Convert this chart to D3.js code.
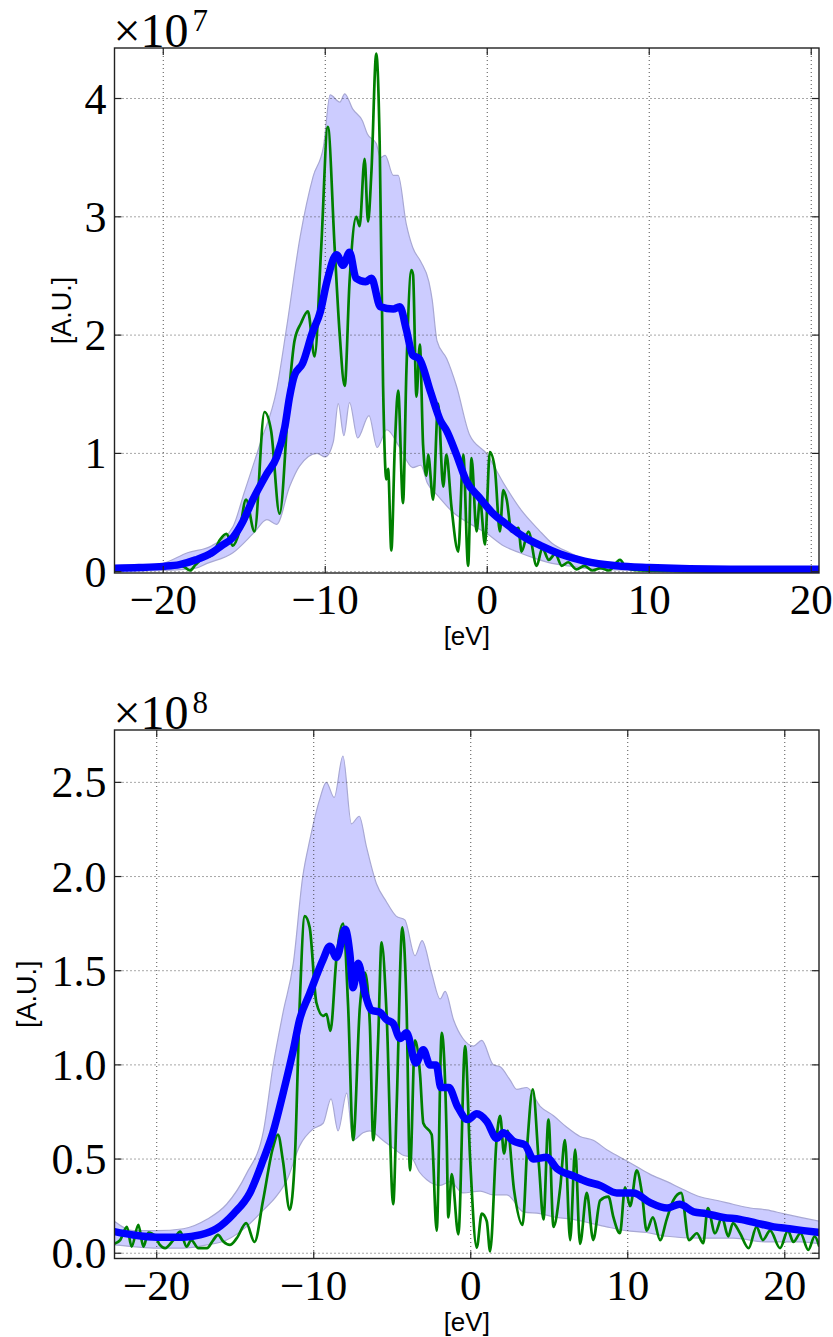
<!DOCTYPE html>
<html><head><meta charset="utf-8">
<script src="https://cdn.jsdelivr.net/npm/d3@7"></script>
<style>body{margin:0;background:#fff}svg{display:block}</style>
</head><body>
<svg id="c" width="833" height="1337"></svg>
<script>
// ---------------- DATA ----------------
const xLabel = "[eV]", yLabel = "[A.U.]";
const topXTicks = [-20, -10, 0, 10, 20];
const topYTicks = [0, 1, 2, 3, 4];
const topExponent = "7";
const botXTicks = [-20, -10, 0, 10, 20];
const botYTicks = [0, 0.5, 1.0, 1.5, 2.0, 2.5];
const botExponent = "8";

// top panel (x in eV, y in units of 1e7)
const topMean = [[-23,0.03],[-21.5,0.035],[-20,0.045],[-19,0.06],[-18,0.10],[-17,0.16],[-16.4,0.22],[-15.7,0.29],[-15.1,0.42],[-14.5,0.6],
 [-13.6,0.83],[-13.0,0.97],[-12.5,1.22],[-12.2,1.48],[-11.9,1.66],[-11.4,1.76],[-10.8,2.02],[-10.3,2.2],[-9.9,2.45],[-9.3,2.68],
 [-8.9,2.59],[-8.5,2.70],[-8.1,2.48],[-7.5,2.45],[-7.15,2.48],[-6.6,2.24],[-5.8,2.22],[-5.4,2.24],[-5.0,2.05],[-4.6,1.83],
 [-4.2,1.80],[-3.5,1.52],[-2.9,1.28],[-2.5,1.19],[-1.9,0.99],[-1.3,0.77],[-0.5,0.63],[0.3,0.50],[1.2,0.40],[2.2,0.30],
 [3.3,0.22],[4.5,0.15],[6,0.09],[8,0.05],[10,0.035],[15,0.02],[20.5,0.02]];
const topUpper = [[-23,0.03],[-21,0.05],[-20,0.07],[-18.5,0.16],[-17,0.22],[-15.7,0.38],[-15,0.67],[-14,1.09],[-13,1.54],[-12.4,2.05],
 [-11.55,2.83],[-10.75,3.34],[-10.1,3.6],[-9.7,4.03],[-9.1,3.97],[-8.8,4.04],[-8.3,3.91],[-7.7,3.81],[-7.4,3.70],[-6.85,3.62],
 [-6.6,3.5],[-6.3,3.52],[-5.8,3.35],[-5.5,3.35],[-5.0,2.94],[-4.6,2.74],[-4.1,2.62],[-3.6,2.45],[-3.4,2.3],[-3.1,1.95],
 [-2.5,1.80],[-1.9,1.57],[-1.1,1.16],[0,0.99],[1.0,0.75],[2.1,0.52],[3.2,0.35],[4.0,0.24],[5.1,0.16],[6.1,0.10],
 [8.2,0.045],[10.2,0.025],[15,0.01],[20.5,0.005]];
const topLower = [[-23,0.005],[-20,0.01],[-18,0.03],[-17.3,0.07],[-15.7,0.16],[-14.4,0.33],[-13.6,0.44],[-13.0,0.40],[-12.2,0.72],[-11.6,0.89],
 [-10.5,1.0],[-10,0.97],[-9.5,1.1],[-9.2,1.42],[-8.85,1.15],[-8.5,1.43],[-8.0,1.13],[-7.3,1.32],[-6.8,1.05],[-6.2,1.2],
 [-5.4,1.05],[-4.6,0.88],[-4.1,0.9],[-3.7,0.75],[-3.1,0.65],[-2.1,0.5],[-1,0.4],[0,0.32],[1,0.22],[2,0.16],
 [3,0.11],[4,0.07],[5,0.05],[6,0.03],[8,0.015],[10,0.008],[20.5,0.003]];
const topGreen = [[-23,0.02],[-21,0.03],[-20,0.045],[-19.2,0.06],[-18.7,0.04],[-18.35,0.01],[-18.0,0.06],[-17.6,0.11],[-17.0,0.14],[-16.5,0.27],
 [-16.1,0.32],[-15.7,0.22],[-15.3,0.34],[-14.89,0.61],[-14.37,0.34],[-13.75,1.35],[-13.34,1.19],[-12.82,0.49],[-12.2,1.57],[-11.9,1.95],
 [-11.5,2.10],[-11.07,2.20],[-10.66,1.82],[-10.25,2.74],[-9.84,3.76],[-9.42,2.74],[-9.11,2.01],[-8.8,1.57],[-8.5,2.45],[-8.08,3.0],
 [-7.88,2.92],[-7.57,3.49],[-7.36,2.96],[-7.15,3.38],[-6.85,4.38],[-6.64,3.62],[-6.43,1.57],[-6.23,0.78],[-6.12,0.87],[-5.92,0.18],
 [-5.71,1.04],[-5.5,1.53],[-5.2,0.58],[-4.99,1.70],[-4.68,2.55],[-4.58,2.51],[-4.37,1.48],[-4.16,1.92],[-3.96,1.07],[-3.75,0.81],
 [-3.65,0.99],[-3.34,0.61],[-3.03,1.42],[-2.72,0.72],[-2.52,0.99],[-2.21,0.55],[-1.79,0.17],[-1.48,0.99],[-1.18,0.05],[-0.97,0.96],
 [-0.66,0.34],[-0.45,0.61],[-0.14,0.23],[0.16,1.01],[0.47,0.87],[0.78,0.34],[0.99,0.69],[1.2,0.61],[1.5,0.34],[1.92,0.37],
 [2.12,0.17],[2.54,0.34],[3.05,0.05],[3.4,0.2],[3.8,0.1],[4.2,0.15],[4.6,0.05],[5.0,0.08],[5.5,0.02],[6.0,0.05],
 [6.5,0.01],[7.0,0.03],[7.5,0.01],[8.2,0.10],[8.6,0.03],[9.5,0.01],[12,0.005],[20.5,0.0]];

// bottom panel (x in eV, y in units of 1e8)
const botMean = [[-22.7,0.115],[-21.5,0.097],[-20,0.085],[-18.3,0.085],[-17.25,0.097],[-16.2,0.13],[-15.1,0.21],[-14.07,0.32],[-13.2,0.50],[-12.6,0.64],
 [-11.95,0.85],[-11.3,1.08],[-10.9,1.24],[-10.3,1.37],[-9.4,1.56],[-8.98,1.63],[-8.55,1.57],[-8.0,1.72],[-7.7,1.59],[-7.5,1.41],
 [-7.17,1.54],[-6.74,1.38],[-6.3,1.29],[-5.8,1.28],[-5.36,1.24],[-4.94,1.22],[-4.5,1.14],[-4.09,1.17],[-3.5,1.01],[-3.02,1.08],
 [-2.6,1.0],[-2.2,1.0],[-1.9,0.88],[-1.4,0.88],[-0.85,0.78],[-0.2,0.71],[0.38,0.74],[1.02,0.70],[1.66,0.61],[2.08,0.64],
 [2.72,0.595],[3.45,0.575],[4.0,0.50],[4.84,0.51],[5.48,0.45],[6.54,0.41],[7.39,0.38],[8.24,0.36],[9.3,0.32],[10.36,0.32],
 [11.4,0.27],[12.5,0.24],[13.3,0.26],[14.2,0.22],[15.0,0.21],[16.1,0.19],[17.15,0.18],[18.2,0.16],[19.3,0.14],[20.3,0.13],
 [21.2,0.12],[22.2,0.11]];
const botUpper = [[-22.7,0.17],[-21.5,0.12],[-20,0.12],[-18.3,0.13],[-16.8,0.18],[-15.55,0.26],[-14.3,0.42],[-13.2,0.65],[-12.6,0.99],[-11.95,1.28],
 [-11.3,1.54],[-10.7,2.0],[-10.26,2.19],[-9.62,2.41],[-9.2,2.50],[-8.7,2.42],[-8.14,2.64],[-7.6,2.28],[-7.1,2.32],[-6.65,2.16],
 [-6.0,1.96],[-5.4,1.87],[-4.75,1.79],[-4.2,1.77],[-3.55,1.58],[-3.1,1.66],[-2.5,1.49],[-1.95,1.35],[-1.63,1.39],[-1.1,1.24],
 [-0.5,1.14],[0.17,1.10],[0.7,1.13],[1.44,1.0],[1.87,0.99],[2.5,0.92],[2.93,0.87],[3.57,0.88],[4.42,0.78],[5.27,0.73],
 [6.1,0.67],[6.96,0.62],[7.8,0.60],[8.66,0.55],[9.5,0.51],[10.36,0.47],[11.4,0.42],[12.5,0.38],[13.5,0.34],[14.6,0.30],
 [15.7,0.28],[16.7,0.26],[17.8,0.24],[18.85,0.23],[19.9,0.21],[21,0.19],[22.2,0.17]];
const botLower = [[-22.7,0.044],[-21.5,0.035],[-20,0.027],[-18.3,0.027],[-16.8,0.044],[-15.55,0.07],[-14.3,0.14],[-13.2,0.23],[-12.4,0.30],[-11.7,0.39],
 [-10.9,0.57],[-10.04,0.66],[-9.4,0.69],[-8.9,0.82],[-8.45,0.65],[-7.9,0.85],[-7.5,0.6],[-6.86,0.64],[-6.44,0.65],[-5.6,0.6],
 [-4.96,0.56],[-4.3,0.52],[-3.8,0.51],[-3.26,0.43],[-2.8,0.39],[-1.95,0.36],[-1.3,0.38],[-0.5,0.32],[0.6,0.33],[1.44,0.31],
 [2.3,0.31],[3.35,0.22],[4.42,0.21],[5.48,0.19],[6.54,0.18],[7.6,0.16],[8.66,0.14],[9.9,0.12],[11.2,0.11],[12.5,0.09],
 [14.6,0.08],[16.7,0.08],[18.85,0.06],[21,0.06],[22.2,0.05]];
const botGreen = [[-22.7,0.05],[-22.33,0.07],[-21.9,0.14],[-21.6,0.035],[-21.17,0.15],[-20.85,0.035],[-20.53,0.11],[-20.1,0.09],[-19.8,0.044],[-19.47,0.027],
 [-18.94,0.07],[-18.5,0.115],[-18.1,0.035],[-17.8,0.07],[-17.35,0.027],[-16.8,0.027],[-16.4,0.07],[-16.1,0.097],[-15.76,0.062],[-15.34,0.044],
 [-14.9,0.08],[-14.3,0.16],[-13.77,0.06],[-13.23,0.28],[-12.6,0.56],[-12.28,0.63],[-11.96,0.49],[-11.53,0.23],[-11.2,0.51],[-10.9,1.31],
 [-10.57,1.79],[-10.26,1.73],[-9.83,1.33],[-9.4,1.26],[-9.19,1.27],[-8.94,1.18],[-8.55,1.57],[-8.13,1.75],[-7.81,1.31],[-7.49,0.60],
 [-7.06,1.31],[-6.74,1.49],[-6.43,1.22],[-6.21,0.60],[-5.9,1.13],[-5.68,1.65],[-5.36,1.27],[-4.94,0.26],[-4.72,0.78],[-4.36,1.73],
 [-4.09,1.31],[-3.87,0.44],[-3.55,1.13],[-3.23,0.95],[-3.02,0.69],[-2.49,0.63],[-2.17,0.12],[-1.85,1.17],[-1.53,0.60],[-1.43,0.19],
 [-1.21,0.42],[-0.79,0.10],[-0.36,1.10],[-0.04,0.50],[0.38,0.03],[0.7,0.21],[1.02,0.17],[1.23,0.01],[1.66,0.62],[1.87,0.73],
 [2.12,0.53],[2.35,0.65],[2.75,0.34],[3.3,0.15],[3.62,0.60],[3.95,0.87],[4.35,0.46],[4.63,0.18],[4.95,0.71],[5.27,0.14],
 [5.7,0.35],[6.0,0.60],[6.33,0.07],[6.65,0.55],[6.96,0.05],[7.39,0.32],[7.8,0.07],[8.24,0.28],[8.77,0.30],[9.09,0.19],
 [9.5,0.106],[9.83,0.35],[10.15,0.25],[10.57,0.44],[10.9,0.32],[11.2,0.12],[11.6,0.19],[12.06,0.07],[12.48,0.18],[12.9,0.28],
 [13.4,0.32],[13.9,0.07],[14.4,0.106],[14.8,0.053],[15.1,0.24],[15.56,0.106],[16.0,0.19],[16.4,0.09],[16.7,0.16],[17.15,0.106],
 [17.7,0.027],[18.2,0.14],[18.6,0.07],[19.07,0.12],[19.7,0.027],[20.2,0.12],[20.55,0.06],[21,0.106],[21.5,0.018],[21.9,0.09],
 [22.2,0.035]];

// ---------------- DRAW ----------------
const svg = d3.select("#c");
svg.append("rect").attr("width",833).attr("height",1337).attr("fill","#fff");

function drawPanel(o){
  const g = svg.append("g");
  const x = d3.scaleLinear().domain(o.xDom).range([o.left, o.right]);
  const y = d3.scaleLinear().domain(o.yDom).range([o.bottom, o.top]);
  const cid = "clip" + o.id;
  svg.append("clipPath").attr("id", cid).append("rect")
    .attr("x", o.left).attr("y", o.top).attr("width", o.right - o.left).attr("height", o.bottom - o.top);

  // band
  const ln = d3.line().x(d=>x(d[0])).y(d=>y(d[1])).curve(d3.curveMonotoneX);
  const up = ln(o.upper), lo = ln(o.lower.slice().reverse());
  g.append("path").attr("clip-path", `url(#${cid})`)
    .attr("d", up + "L" + lo.substring(1) + "Z")
    .attr("fill", "#ccccff").attr("stroke", "#a8a8d4").attr("stroke-width", 1.2);

  // grid
  const grid = g.append("g").attr("stroke", "#333").attr("stroke-width", 1).attr("stroke-dasharray", "1,3").attr("opacity", 0.85);
  o.xTicks.forEach(t => grid.append("line").attr("x1", x(t)).attr("x2", x(t)).attr("y1", o.top).attr("y2", o.bottom));
  o.yTicks.forEach(t => grid.append("line").attr("y1", y(t)).attr("y2", y(t)).attr("x1", o.left).attr("x2", o.right));

  // green
  g.append("path").attr("clip-path", `url(#${cid})`).attr("d", ln(o.green))
    .attr("fill", "none").attr("stroke", "#008000").attr("stroke-width", 2.7).attr("stroke-linejoin", "round");
  // blue mean
  g.append("path").attr("clip-path", `url(#${cid})`).attr("d", ln(o.mean))
    .attr("fill", "none").attr("stroke", "#0000ff").attr("stroke-width", 7.5).attr("stroke-linejoin", "round").attr("stroke-linecap", "round");

  // frame
  g.append("rect").attr("x", o.left).attr("y", o.top).attr("width", o.right - o.left).attr("height", o.bottom - o.top)
    .attr("fill", "none").attr("stroke", "#222").attr("stroke-width", 1.4);

  // inward ticks
  const tk = g.append("g").attr("stroke", "#222").attr("stroke-width", 1.2);
  const TL = 7;
  o.xTicks.forEach(t => {
    tk.append("line").attr("x1", x(t)).attr("x2", x(t)).attr("y1", o.bottom).attr("y2", o.bottom - TL);
    tk.append("line").attr("x1", x(t)).attr("x2", x(t)).attr("y1", o.top).attr("y2", o.top + TL);
  });
  o.yTicks.forEach(t => {
    tk.append("line").attr("y1", y(t)).attr("y2", y(t)).attr("x1", o.left).attr("x2", o.left + TL);
    tk.append("line").attr("y1", y(t)).attr("y2", y(t)).attr("x1", o.right).attr("x2", o.right - TL);
  });

  // tick labels
  const serif = "'Liberation Serif','DejaVu Serif',serif";
  const fx = d3.format("d");
  o.xTicks.forEach(t => g.append("text").attr("x", x(t)).attr("y", o.bottom + 41)
    .attr("text-anchor", "middle").attr("font-family", serif).attr("font-size", 43).attr("fill", "#000").text(fx(t)));
  o.yTicks.forEach(t => g.append("text").attr("x", o.left - 8).attr("y", y(t) + 15)
    .attr("text-anchor", "end").attr("font-family", serif).attr("font-size", 44).attr("fill", "#000").text(o.yFmt(t)));

  // multiplier
  g.append("text").attr("x", o.left - 1).attr("y", o.top - 1).attr("font-family", serif).attr("font-size", 48).attr("fill", "#000").text("×10");
  g.append("text").attr("x", o.left + 78).attr("y", o.top - 17).attr("font-family", serif).attr("font-size", 31).attr("fill", "#000").text(o.exp);

  // axis labels
  const sans = "'Liberation Sans',Arial,sans-serif";
  g.append("text").attr("x", (o.left + o.right) / 2).attr("y", o.bottom + 72)
    .attr("text-anchor", "middle").attr("font-family", sans).attr("font-size", 26).attr("fill", "#000").text(xLabel);
  g.append("text").attr("transform", `translate(${o.yLabX},${(o.top + o.bottom) / 2}) rotate(-90)`)
    .attr("text-anchor", "middle").attr("font-family", sans).attr("font-size", 27).attr("fill", "#000").text(yLabel);
}

drawPanel({id:"t", left:114.5, right:819, top:48, bottom:573, xDom:[-23.01,20.48], yDom:[-0.011,4.427],
  xTicks:topXTicks, yTicks:topYTicks, yFmt:d3.format("d"), exp:topExponent, yLabX:71,
  mean:topMean, upper:topUpper, lower:topLower, green:topGreen});
drawPanel({id:"b", left:114.5, right:819, top:730, bottom:1258.5, xDom:[-22.69,22.18], yDom:[-0.028,2.778],
  xTicks:botXTicks, yTicks:botYTicks, yFmt:d3.format(".1f"), exp:botExponent, yLabX:36,
  mean:botMean, upper:botUpper, lower:botLower, green:botGreen});
</script>
</body></html>
